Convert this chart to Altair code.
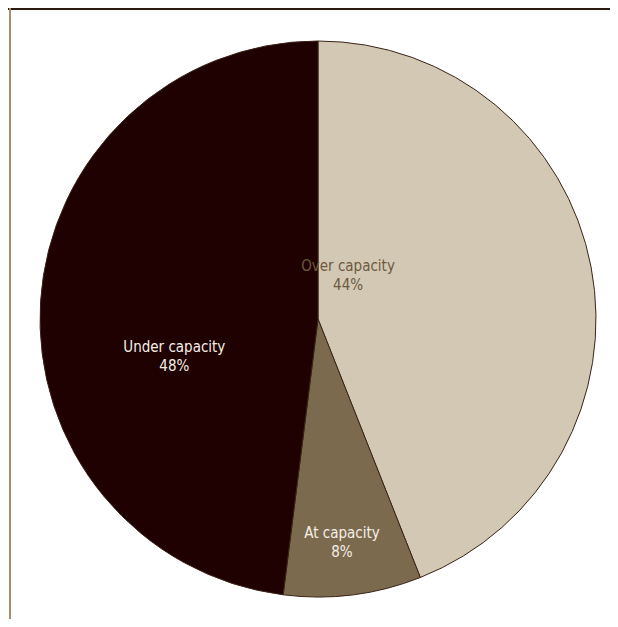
import altair as alt
import pandas as pd

categories = ["Over capacity", "At capacity", "Under capacity"]
values = [44, 8, 48]
labels = ["44%", "8%", "48%"]
colors = ["#d3c8b4", "#7c6a4f", "#1e0100"]
text_colors = ["#6b5a40", "#f4efe6", "#f4efe6"]

df = pd.DataFrame({
    "category": categories,
    "value": values,
    "pct": labels,
    "order": list(range(len(categories))),
})

W, H = 602, 611
CX, CY, R = 310, 311, 278

base = alt.Chart(df).transform_window(
    cum="sum(value)", sort=[alt.SortField("order")]
).transform_calculate(
    mid="datum.cum - datum.value / 2",
    lab="[datum.category, datum.pct]",
)

pie = alt.Chart(df).mark_arc(radius=R, stroke="#3a2418", strokeWidth=1).encode(
    theta=alt.Theta("value:Q", stack=True),
    order=alt.Order("order:Q"),
    color=alt.Color("category:N", scale=alt.Scale(domain=categories, range=colors), legend=None),
    x=alt.value(CX),
    y=alt.value(CY),
)

theta_scale = alt.Scale(domain=[0, 100], range=[0, 6.283185307])

def label(cat, radius, dx, dy, color):
    return base.transform_filter(alt.datum.category == cat).mark_text(
        font="DejaVu Sans Condensed", fontSize=15, lineHeight=19,
        align="center", baseline="middle", dx=dx, dy=dy, color=color,
    ).encode(
        theta=alt.Theta("mid:Q", scale=theta_scale, stack=None),
        radius=alt.value(radius),
        text="lab:N",
        x=alt.value(CX),
        y=alt.value(CY),
    )

lab_over = label("Over capacity", 54, -23, -43, text_colors[0])
lab_at = label("At capacity", 223, -4, -7, text_colors[1])
lab_under = label("Under capacity", 149, 5, 37, text_colors[2])

top_rule = alt.Chart(df).mark_rule(color="#2b1a10", strokeWidth=2).encode(
    x=alt.value(0), x2=alt.value(604), y=alt.value(1)
)
right_rule = alt.Chart(df).mark_rule(color="#2b1a10", strokeWidth=2).encode(
    x=alt.value(603), y=alt.value(0), y2=alt.value(2)
)
left_rule = alt.Chart(df).mark_rule(color="#a48c6c", strokeWidth=1.5).encode(
    x=alt.value(2), y=alt.value(0), y2=alt.value(H)
)

chart = alt.layer(pie, lab_over, lab_at, lab_under, top_rule, right_rule, left_rule).properties(
    width=W, height=H, padding=0, autosize=alt.AutoSizeParams(type="none")
).configure_view(stroke=None)

chart.save("out.html", embed_options={"renderer": "svg", "actions": False})
